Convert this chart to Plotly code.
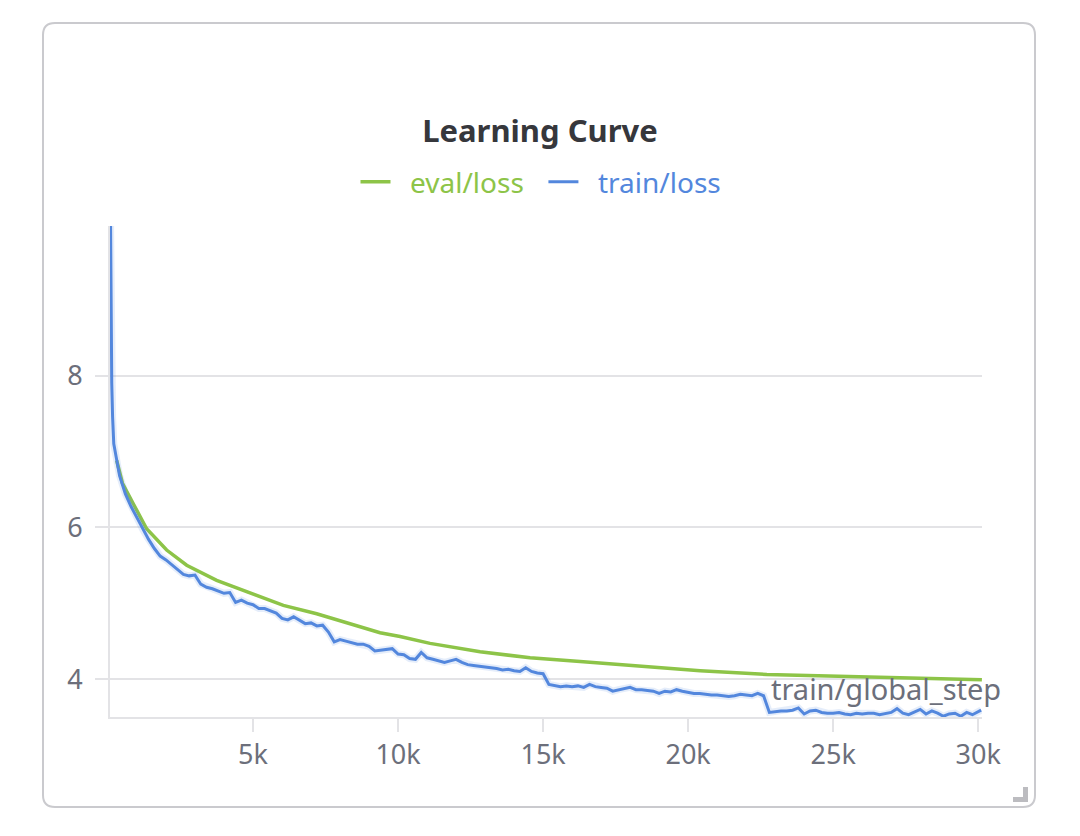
import plotly.graph_objects as go

# eval/loss
eval_step = [300, 500, 873, 1333, 2023, 2713, 3747, 4897, 6046, 7195, 8345, 9379, 10069,
             11103, 12828, 14552, 16276, 18000, 19724, 20414, 22713, 25011, 27310, 30126]
eval_loss = [6.88, 6.58, 6.31, 5.98, 5.70, 5.50, 5.30, 5.13, 4.97, 4.86, 4.73, 4.61, 4.56,
             4.47, 4.36, 4.28, 4.23, 4.18, 4.13, 4.11, 4.06, 4.04, 4.02, 3.99]

# train/loss, logged every 200 steps after the first few
train_step = [90, 100, 115, 130, 160] + list(range(200, 30001, 200)) + [30100]
train_loss = [
    9.97, 9.20, 8.30, 7.90, 7.45,
    7.10, 6.68, 6.44, 6.27, 6.12, 5.97, 5.84, 5.72, 5.62, 5.57,
    5.51, 5.44, 5.38, 5.36, 5.37, 5.25, 5.21, 5.19, 5.16, 5.13,
    5.14, 5.01, 5.04, 5.00, 4.98, 4.93, 4.93, 4.90, 4.87, 4.80,
    4.78, 4.82, 4.77, 4.73, 4.74, 4.70, 4.71, 4.62, 4.49, 4.52,
    4.50, 4.48, 4.46, 4.46, 4.43, 4.37, 4.38, 4.39, 4.40, 4.33,
    4.32, 4.27, 4.26, 4.35, 4.28, 4.26, 4.24, 4.22, 4.24, 4.26,
    4.22, 4.19, 4.18, 4.17, 4.16, 4.15, 4.14, 4.12, 4.13, 4.11,
    4.10, 4.15, 4.10, 4.08, 4.07, 3.93, 3.91, 3.90, 3.91, 3.90,
    3.91, 3.89, 3.93, 3.90, 3.89, 3.88, 3.84, 3.86, 3.88, 3.89,
    3.86, 3.86, 3.85, 3.84, 3.81, 3.84, 3.83, 3.86, 3.84, 3.82,
    3.81, 3.81, 3.80, 3.79, 3.79, 3.78, 3.77, 3.78, 3.80, 3.79,
    3.78, 3.81, 3.78, 3.56, 3.57, 3.58, 3.58, 3.59, 3.62, 3.54,
    3.58, 3.59, 3.56, 3.55, 3.55, 3.56, 3.54, 3.53, 3.55, 3.54,
    3.55, 3.55, 3.53, 3.54, 3.56, 3.61, 3.55, 3.53, 3.56, 3.60,
    3.54, 3.58, 3.55, 3.51, 3.54, 3.55, 3.51, 3.56, 3.53, 3.57,
    3.59,
]

x_ticks = [5000, 10000, 15000, 20000, 25000, 30000]
x_labels = ["5k", "10k", "15k", "20k", "25k", "30k"]
y_ticks = [4, 6, 8]

GREEN = "rgb(141,196,72)"
BLUE = "rgb(83,135,221)"
TICK = "#6c6f7b"
GRID = "#e3e3e6"

# page has an 8px body margin, so the figure is drawn 8px in
OFF = 8
W, H = 1080 - OFF, 836 - OFF
L, T = 110 - OFF, 226 - OFF
R, B = W - (982 - OFF), H - (717 - OFF)
pw, ph = W - L - R, H - T - B


def px(x, y):
    # page pixel -> paper coords of the plot area
    return (x - OFF - L) / pw, (H - B - (y - OFF)) / ph


def rounded_rect(x0, y0, x1, y1, r):
    pts = []
    a = px(x0 + r, y0); pts.append("M %f %f" % a)
    b = px(x1 - r, y0); pts.append("L %f %f" % b)
    c = px(x1, y0); d = px(x1, y0 + r); pts.append("Q %f %f %f %f" % (c + d))
    e = px(x1, y1 - r); pts.append("L %f %f" % e)
    f = px(x1, y1); g = px(x1 - r, y1); pts.append("Q %f %f %f %f" % (f + g))
    h = px(x0 + r, y1); pts.append("L %f %f" % h)
    i = px(x0, y1); j = px(x0, y1 - r); pts.append("Q %f %f %f %f" % (i + j))
    k = px(x0, y0 + r); pts.append("L %f %f" % k)
    m = px(x0, y0); pts.append("Q %f %f %f %f Z" % (m + a))
    return " ".join(pts)


def handle():
    p = [px(1028, 787), px(1028, 802), px(1013, 802), px(1013, 797), px(1023, 797), px(1023, 787)]
    return "M " + " L ".join("%f %f" % q for q in p) + " Z"


fig = go.Figure()
fig.add_trace(go.Scatter(x=eval_step, y=eval_loss, mode="lines",
                         line=dict(color=GREEN, width=3.5),
                         name='\u00a0\u00a0<span style="color:%s">eval/loss</span>\u00a0\u00a0' % GREEN))
fig.add_trace(go.Scatter(x=train_step, y=train_loss, mode="lines",
                         line=dict(color="rgba(83,135,221,0.15)", width=7),
                         showlegend=False, hoverinfo="skip"))
fig.add_trace(go.Scatter(x=train_step, y=train_loss, mode="lines",
                         line=dict(color=BLUE, width=3),
                         name='\u00a0\u00a0<span style="color:%s">train/loss</span>' % BLUE))

ann_x, ann_y = px(1003, 688)

fig.update_layout(
    width=W, height=H,
    margin=dict(l=L, r=R, t=T, b=B),
    paper_bgcolor="white", plot_bgcolor="white",
    font=dict(family="Noto Sans", color=TICK),
    title=dict(text="<b>Learning Curve</b>", x=(540 - OFF) / W, xanchor="center",
               y=1 - (131 - OFF) / H, yanchor="middle",
               font=dict(size=31, color="#36373c")),
    legend=dict(orientation="h", xref="container", yref="container",
                x=(541 - OFF) / W, xanchor="center", y=1 - (182 - OFF) / H, yanchor="middle",
                font=dict(size=28), itemwidth=30),
    xaxis=dict(range=[70, 30130], tickvals=x_ticks, ticktext=x_labels,
               showgrid=False, zeroline=False, showline=True, linecolor=GRID, linewidth=2,
               ticks="outside", ticklen=13, tickwidth=2, tickcolor=GRID,
               tickfont=dict(size=27, color=TICK)),
    yaxis=dict(range=[3.5, 9.97], tickvals=y_ticks,
               showgrid=True, gridcolor=GRID, gridwidth=2, zeroline=False,
               showline=True, linecolor=GRID, linewidth=2,
               ticks="outside", ticklen=13, tickwidth=2, tickcolor=GRID,
               ticklabelstandoff=7,
               tickfont=dict(size=27, color=TICK)),
    shapes=[
        dict(type="path", xref="paper", yref="paper", path=rounded_rect(43, 23, 1035, 807, 12),
             line=dict(color="#cacace", width=2), fillcolor="rgba(0,0,0,0)", layer="below"),
        dict(type="path", xref="paper", yref="paper", path=handle(),
             line=dict(width=0), fillcolor="#bcbcc0"),
    ],
    annotations=[
        dict(text="train/global_step", xref="paper", yref="paper",
             x=ann_x, y=ann_y, xanchor="right", yanchor="middle",
             showarrow=False, font=dict(size=29, color=TICK)),
    ],
)

fig.write_html("out.html")
